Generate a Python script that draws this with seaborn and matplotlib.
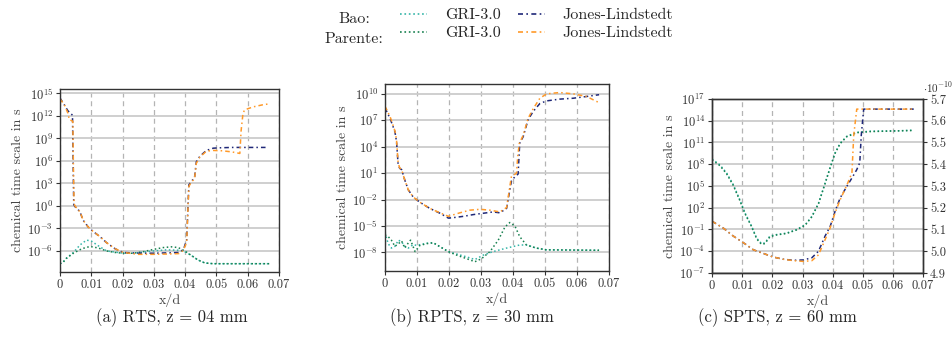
import numpy as np
import matplotlib
matplotlib.use('Agg')
import matplotlib.pyplot as plt
import seaborn as sns
from matplotlib.lines import Line2D

# log10 of the chemical time scale
# (a) RTS
rts_bao_jl_x = [0, 0.0015, 0.0025, 0.0040, 0.0042, 0.0044, 0.0048, 0.0056, 0.0064, 0.0074, 0.009, 0.0106,
                0.0128, 0.0149, 0.0176, 0.0202, 0.025, 0.030, 0.035, 0.038, 0.0395, 0.0405, 0.0412, 0.042,
                0.043, 0.0436, 0.0447, 0.0468, 0.049, 0.051, 0.055, 0.060, 0.0665]
rts_bao_jl = [14.4, 13.4, 12.7, 12.1, 6.0, 0.2, -0.1, -0.4, -0.8, -1.9, -2.8, -3.4,
              -4.1, -4.9, -5.7, -6.2, -6.3, -6.3, -6.25, -6.2, -5.8, -4.5, 2.8, 3.3,
              3.7, 5.9, 6.6, 7.4, 7.7, 7.75, 7.8, 7.8, 7.8]
rts_par_jl_x = [0, 0.0015, 0.0025, 0.003, 0.0041, 0.0043, 0.0045, 0.0048, 0.0056, 0.0064, 0.0074, 0.009,
                0.0106, 0.0128, 0.0149, 0.0176, 0.0202, 0.025, 0.030, 0.035, 0.038, 0.0395, 0.0405, 0.0412,
                0.042, 0.043, 0.0436, 0.0447, 0.0468, 0.049, 0.052, 0.055, 0.0575, 0.0579, 0.0585, 0.059,
                0.0617, 0.065, 0.0668]
rts_par_jl = [14.3, 13.4, 12.4, 11.5, 11.3, 5.0, 0.3, 0.0, -0.4, -0.8, -1.9, -2.8,
              -3.4, -4.1, -4.9, -5.7, -6.2, -6.45, -6.45, -6.4, -6.35, -5.9, -4.8, 2.6,
              3.2, 3.6, 5.7, 6.5, 7.3, 7.4, 7.35, 7.2, 7.0, 10.0, 12.3, 12.8,
              13.2, 13.5, 13.6]
rts_bao_gri_x = [0, 0.001, 0.002, 0.0043, 0.0064, 0.0085, 0.0101, 0.0122, 0.0149, 0.0176, 0.0202, 0.0234,
                 0.0266, 0.0298, 0.034, 0.0378, 0.0399, 0.042, 0.0441, 0.0463, 0.049, 0.0674]
rts_bao_gri = [-7.7, -7.5, -7.0, -6.2, -5.2, -4.55, -4.7, -5.3, -6.0, -6.15, -6.3, -6.3,
               -6.15, -6.0, -5.85, -5.9, -6.1, -6.6, -7.2, -7.6, -7.7, -7.7]
rts_par_gri_x = [0, 0.001, 0.002, 0.0043, 0.007, 0.0096, 0.0122, 0.0149, 0.0176, 0.0202, 0.0234, 0.0266,
                 0.0298, 0.033, 0.0356, 0.0378, 0.0399, 0.042, 0.0441, 0.0463, 0.049, 0.0674]
rts_par_gri = [-7.7, -7.5, -7.0, -6.3, -5.7, -5.4, -5.6, -6.0, -6.2, -6.3, -6.3, -6.1,
               -5.8, -5.55, -5.45, -5.55, -6.0, -6.6, -7.2, -7.6, -7.7, -7.7]

# (b) RPTS
rpts_bao_jl_x = [0, 0.0016, 0.0031, 0.0036, 0.0041, 0.0046, 0.0052, 0.0062, 0.0073, 0.0088, 0.0109, 0.014,
                 0.0172, 0.0198, 0.0213, 0.0245, 0.0276, 0.0307, 0.0338, 0.0359, 0.038, 0.039, 0.0395,
                 0.0406, 0.0416, 0.0421, 0.0432, 0.0447, 0.0463, 0.0484, 0.0505, 0.0546, 0.0588, 0.063, 0.0669]
rpts_bao_jl = [8.4, 7.2, 5.7, 4.6, 2.0, 1.55, 1.4, 0.2, -0.9, -1.7, -2.3, -3.0,
               -3.55, -4.1, -4.05, -3.9, -3.7, -3.55, -3.4, -3.5, -3.0, -0.9, 0.1,
               0.6, 0.9, 4.4, 5.15, 7.05, 8.0, 8.9, 9.2, 9.4, 9.5, 9.7, 9.9]
rpts_par_jl_x = [0, 0.0016, 0.0031, 0.0036, 0.0041, 0.0046, 0.0052, 0.0062, 0.0073, 0.0088, 0.0109, 0.014,
                 0.0172, 0.0198, 0.0234, 0.0265, 0.0297, 0.0328, 0.0359, 0.038, 0.0395, 0.0411, 0.0415,
                 0.042, 0.0432, 0.0447, 0.0463, 0.0484, 0.0505, 0.0546, 0.0588, 0.063, 0.0669]
rpts_par_jl = [8.6, 7.4, 5.8, 4.8, 2.2, 1.6, 1.4, 0.2, -0.9, -1.7, -2.3, -3.0,
               -3.5, -3.9, -3.5, -3.2, -3.1, -3.2, -3.4, -2.9, 0.6, 1.0, 3.0,
               4.4, 5.3, 7.2, 8.3, 9.5, 10.0, 10.15, 10.0, 9.7, 9.0]
rpts_bao_gri_x = [0, 0.001, 0.002, 0.0031, 0.0042, 0.0052, 0.0062, 0.0073, 0.0088, 0.0099, 0.013, 0.0151,
                  0.0198, 0.0255, 0.0281, 0.0307, 0.0338, 0.038, 0.0421, 0.0442, 0.0473, 0.0505, 0.0669]
rpts_bao_gri = [-5.75, -7.0, -7.5, -7.3, -6.6, -6.8, -7.3, -7.5, -7.1, -7.2, -6.95, -6.9,
                -7.9, -8.5, -8.8, -8.3, -7.9, -7.5, -7.15, -7.15, -7.5, -7.7, -7.75]
rpts_par_gri_x = [0, 0.001, 0.002, 0.0031, 0.0042, 0.0052, 0.0062, 0.0073, 0.008, 0.0094, 0.0109, 0.013,
                  0.0151, 0.0172, 0.0198, 0.0224, 0.0255, 0.0281, 0.0302, 0.0328, 0.0354, 0.0375, 0.039,
                  0.0406, 0.0421, 0.0442, 0.0473, 0.0505, 0.0669]
rpts_par_gri = [-6.0, -6.2, -6.6, -7.3, -7.0, -6.7, -7.5, -6.9, -6.6, -7.9, -7.2, -7.0,
                -6.9, -7.35, -7.9, -8.3, -8.7, -9.05, -8.7, -7.9, -6.6, -5.1, -4.6,
                -5.0, -6.2, -7.15, -7.5, -7.7, -7.75]

# (c) SPTS
spts_gri_x = [0, 0.0026, 0.0048, 0.007, 0.0092, 0.0109, 0.0131, 0.0148, 0.0164, 0.0175, 0.0192, 0.0214,
              0.0247, 0.0281, 0.0309, 0.0331, 0.0353, 0.0375, 0.0392, 0.0408, 0.0425, 0.0447, 0.048,
              0.0525, 0.0614, 0.0669]
spts_bao_gri = [8.72, 7.9, 6.8, 5.2, 3.1, 1.3, -0.55, -2.2, -2.95, -2.85, -1.9, -1.7,
                -1.5, -1.0, -0.35, 0.8, 2.6, 5.4, 7.6, 9.55, 10.9, 11.85, 12.4,
                12.55, 12.6, 12.7]
spts_par_gri = [8.6, 7.8, 6.7, 5.1, 3.0, 1.2, -0.6, -2.3, -3.05, -2.95, -2.0, -1.75,
                -1.55, -1.05, -0.4, 0.75, 2.55, 5.35, 7.55, 9.5, 10.85, 11.8, 12.35,
                12.5, 12.6, 12.65]
spts_bao_jl_x = [0, 0.0037, 0.007, 0.0103, 0.0137, 0.017, 0.0203, 0.0236, 0.027, 0.0303, 0.0331, 0.0353,
                 0.0375, 0.0392, 0.0408, 0.0425, 0.0447, 0.0464, 0.048, 0.049, 0.0495, 0.0503, 0.055, 0.0669]
spts_bao_jl = [0.13, -0.8, -1.9, -2.8, -3.8, -4.3, -4.8, -5.1, -5.25, -5.2, -4.9, -4.0,
               -1.9, -0.55, 1.5, 3.35, 4.95, 6.1, 7.25, 8.2, 12.0, 15.6, 15.6, 15.6]
spts_par_jl_x = [0, 0.0037, 0.007, 0.0103, 0.0137, 0.017, 0.0203, 0.0236, 0.027, 0.0303, 0.0331, 0.0353,
                 0.0375, 0.0392, 0.0408, 0.0425, 0.0447, 0.0464, 0.047, 0.048, 0.055, 0.0669]
spts_par_jl = [0.13, -0.8, -1.9, -2.8, -3.8, -4.3, -4.8, -5.1, -5.3, -5.4, -5.3, -4.5,
               -2.4, -0.75, 1.3, 3.1, 5.1, 6.8, 12.0, 15.6, 15.6, 15.6]

x_ticks = [0, 0.01, 0.02, 0.03, 0.04, 0.05, 0.06, 0.07]
x_ticklabels = ['0', '0.01', '0.02', '0.03', '0.04', '0.05', '0.06', '0.07']
rts_yticks = [-6, -3, 0, 3, 6, 9, 12, 15]
rpts_yticks = [-8, -5, -2, 1, 4, 7, 10]
spts_yticks = [-7, -4, -1, 2, 5, 8, 11, 14, 17]
spts_right_ticks = [4.9, 5.0, 5.1, 5.2, 5.3, 5.4, 5.5, 5.6, 5.7]
captions = ['(a) RTS, z = 04 mm', '(b) RPTS, z = 30 mm', '(c) SPTS, z = 60 mm']

c_bao_gri = '#35b5a8'
c_par_gri = '#17804f'
c_bao_jl = '#1f2878'
c_par_jl = '#ff9a2a'
dashdot = (0, (3, 2, 1, 2))

sns.set_theme(style='ticks')
plt.rcParams['font.family'] = 'serif'
plt.rcParams['font.serif'] = ['cmr10', 'DejaVu Serif']
plt.rcParams['mathtext.fontset'] = 'cm'
plt.rcParams['axes.formatter.use_mathtext'] = True
plt.rcParams['axes.unicode_minus'] = False

fig = plt.figure(figsize=(9.52, 3.46), dpi=100)
ax1 = fig.add_axes([0.063, 0.214, 0.230, 0.529])
ax2 = fig.add_axes([0.4044, 0.2168, 0.2353, 0.540])
ax3 = fig.add_axes([0.748, 0.211, 0.2216, 0.503])


def draw(ax, x, logy, color, ls):
    sns.lineplot(x=x, y=10.0 ** np.array(logy), ax=ax, color=color, linestyle=ls, lw=1.1,
                 estimator=None, sort=False)


draw(ax1, rts_bao_gri_x, rts_bao_gri, c_bao_gri, ':')
draw(ax1, rts_par_gri_x, rts_par_gri, c_par_gri, ':')
draw(ax1, rts_bao_jl_x, rts_bao_jl, c_bao_jl, dashdot)
draw(ax1, rts_par_jl_x, rts_par_jl, c_par_jl, dashdot)

draw(ax2, rpts_bao_gri_x, rpts_bao_gri, c_bao_gri, ':')
draw(ax2, rpts_par_gri_x, rpts_par_gri, c_par_gri, ':')
draw(ax2, rpts_bao_jl_x, rpts_bao_jl, c_bao_jl, dashdot)
draw(ax2, rpts_par_jl_x, rpts_par_jl, c_par_jl, dashdot)

draw(ax3, spts_gri_x, spts_bao_gri, c_bao_gri, ':')
draw(ax3, spts_gri_x, spts_par_gri, c_par_gri, ':')
draw(ax3, spts_bao_jl_x, spts_bao_jl, c_bao_jl, dashdot)
draw(ax3, spts_par_jl_x, spts_par_jl, c_par_jl, dashdot)

for ax, yt, ylim in zip([ax1, ax2, ax3], [rts_yticks, rpts_yticks, spts_yticks],
                        [(10**-8.8, 10**15.6), (10**-10.1, 10**11.1), (1e-7, 1e17)]):
    ax.set_yscale('log')
    ax.set_xlim(0, 0.07)
    ax.set_ylim(*ylim)
    ax.set_yticks([10.0 ** t for t in yt])
    ax.minorticks_off()
    ax.set_xticks(x_ticks)
    ax.set_xticklabels(x_ticklabels)
    ax.set_axisbelow(True)
    ax.yaxis.grid(True, color='#cccccc', lw=1.3)
    ax.xaxis.grid(True, color='#b4b4b4', lw=0.9, ls=(0, (4, 3)))
    ax.tick_params(labelsize=9, length=3, width=0.8, colors='#333333', pad=2)
    for s in ax.spines.values():
        s.set_color('#333333')
        s.set_linewidth(1.0)
    ax.set_xlabel('x/d', fontsize=10, color='#444444', labelpad=2)
    ax.set_ylabel('chemical time scale in s', fontsize=10, color='#444444', labelpad=2)

for cx, cap in zip([172, 472, 777], captions):
    fig.text(cx / 952, 1 - 318 / 346, cap, ha='center', va='center', fontsize=12)

axr = ax3.twinx()
axr.set_ylim(4.9e-10, 5.7e-10)
axr.set_yticks([t * 1e-10 for t in spts_right_ticks])
axr.set_yticklabels([f'{t:.1f}' for t in spts_right_ticks])
axr.tick_params(labelsize=9, length=3, width=0.8, colors='#333333', pad=2)
for s in axr.spines.values():
    s.set_color('#333333')
    s.set_linewidth(1.0)
axr.text(1.0, 1.02, r'$\cdot10^{-10}$', transform=ax3.transAxes, ha='left', va='bottom', fontsize=8,
         color='#333333')

handles = [Line2D([], [], color=c_bao_gri, ls=':', lw=1.2),
           Line2D([], [], color=c_par_gri, ls=':', lw=1.2),
           Line2D([], [], color=c_bao_jl, ls=dashdot, lw=1.2),
           Line2D([], [], color=c_par_jl, ls=dashdot, lw=1.2)]
labels = ['GRI-3.0', 'GRI-3.0', 'Jones-Lindstedt', 'Jones-Lindstedt']
fig.legend(handles, labels, ncol=2, frameon=False, fontsize=11.5, loc='upper left',
           bbox_to_anchor=(400 / 952, 1 - 8 / 346), borderaxespad=0, borderpad=0,
           handlelength=1.7, handletextpad=1.1, columnspacing=1.1, labelspacing=0.25)
fig.text(354 / 952, 1 - 19 / 346, 'Bao:', ha='center', va='center', fontsize=11.5)
fig.text(354 / 952, 1 - 39 / 346, 'Parente:', ha='center', va='center', fontsize=11.5)

fig.savefig('out.png', dpi=100)
